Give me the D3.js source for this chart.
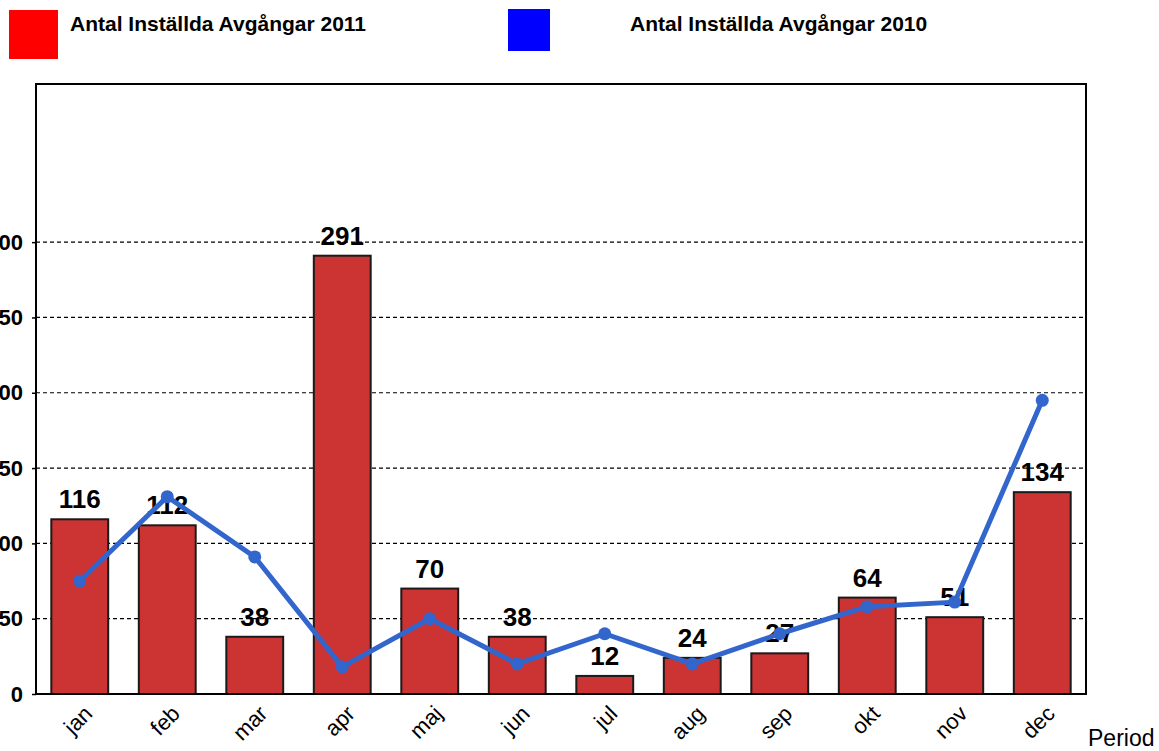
<!DOCTYPE html>
<html><head><meta charset="utf-8">
<script src="https://cdn.jsdelivr.net/npm/d3@7"></script>
<style>body{margin:0;background:#fff}svg{display:block}</style>
</head><body>
<svg id="c" width="1159" height="751"></svg>
<script>
const months = ["jan","feb","mar","apr","maj","jun","jul","aug","sep","okt","nov","dec"];
const values2011 = [116,112,38,291,70,38,12,24,27,64,51,134];
const values2010 = [75,131,91,18,50,20,40,20,40,58,61,195];
const yTicks = [0,50,100,150,200,250,300];
const seriesNames = ["Antal Inställda Avgångar 2011","Antal Inställda Avgångar 2010"];
const xTitle = "Period";

const FONT = "Arial, Liberation Sans, sans-serif";
const svg = d3.select("#c");
const L = 36, R = 1086, T = 84, B = 694;
const x = d3.scaleBand().domain(months).range([L, R]).paddingInner(0.35).paddingOuter(0.175);
const y = d3.scaleLinear().domain([0, 405]).range([B, T]);
const xc = d => x(d) + x.bandwidth()/2;

// gridlines
svg.append("g").selectAll("line").data(yTicks.filter(t => t > 0)).join("line")
  .attr("x1", L).attr("x2", R).attr("y1", d => y(d)).attr("y2", d => y(d))
  .attr("stroke", "#000").attr("stroke-width", 1.2).attr("stroke-dasharray", "4,3");

// bars
svg.append("g").selectAll("rect").data(values2011).join("rect")
  .attr("x", (d,i) => x(months[i])).attr("width", x.bandwidth())
  .attr("y", d => y(d)).attr("height", d => B - y(d))
  .attr("fill", "#CC3333").attr("stroke", "#1a1a1a").attr("stroke-width", 2);

// value labels
svg.append("g").selectAll("text").data(values2011).join("text")
  .attr("x", (d,i) => xc(months[i])).attr("y", d => y(d) - 11)
  .attr("text-anchor", "middle").attr("font-family", FONT)
  .attr("font-weight", "bold").attr("font-size", 26).attr("fill", "#000").text(d => d);

// line
const line = d3.line().x((d,i) => xc(months[i])).y(d => y(d));
svg.append("path").datum(values2010).attr("d", line)
  .attr("fill", "none").attr("stroke", "#3366CC").attr("stroke-width", 5).attr("stroke-linejoin", "round");
svg.append("g").selectAll("circle").data(values2010).join("circle")
  .attr("cx", (d,i) => xc(months[i])).attr("cy", d => y(d)).attr("r", 6.5).attr("fill", "#3366CC");

// frame
svg.append("rect").attr("x", L).attr("y", T).attr("width", R - L).attr("height", B - T)
  .attr("fill", "none").attr("stroke", "#000").attr("stroke-width", 2);

// y axis
const yAxis = d3.axisLeft(y).tickValues(yTicks).tickSize(4).tickPadding(9);
const gy = svg.append("g").attr("transform", `translate(${L},0)`).call(yAxis);
gy.select(".domain").remove();
gy.selectAll("text").attr("font-family", FONT)
  .attr("font-weight", "bold").attr("font-size", 22).attr("fill", "#000");
gy.selectAll("line").attr("stroke", "#000").attr("stroke-width", 1.5);

// x axis
const xAxis = d3.axisBottom(x).tickSize(0).tickPadding(0);
const gx = svg.append("g").attr("transform", `translate(0,${B})`).call(xAxis);
gx.select(".domain").remove();
gx.selectAll("text").attr("font-family", FONT)
  .attr("font-size", 22).attr("fill", "#000")
  .attr("text-anchor", "end").attr("dy", 0).attr("y", 0)
  .attr("transform", "translate(14,21) rotate(-45)");

svg.append("text").attr("x", 1088).attr("y", 746)
  .attr("font-family", FONT).attr("font-size", 23).text(xTitle);

// legend
const legend = [
  {name: seriesNames[0], color: "#FF0000", sx: 9, sy: 10, s: 49, tx: 70},
  {name: seriesNames[1], color: "#0000FF", sx: 508, sy: 9, s: 42, tx: 630}
];
const lg = svg.append("g").selectAll("g").data(legend).join("g");
lg.append("rect").attr("x", d => d.sx).attr("y", d => d.sy).attr("width", d => d.s).attr("height", d => d.s)
  .attr("fill", d => d.color);
lg.append("text").attr("x", d => d.tx).attr("y", 31)
  .attr("font-family", FONT).attr("font-weight", "bold").attr("font-size", 21)
  .text(d => d.name);
</script>
</body></html>
